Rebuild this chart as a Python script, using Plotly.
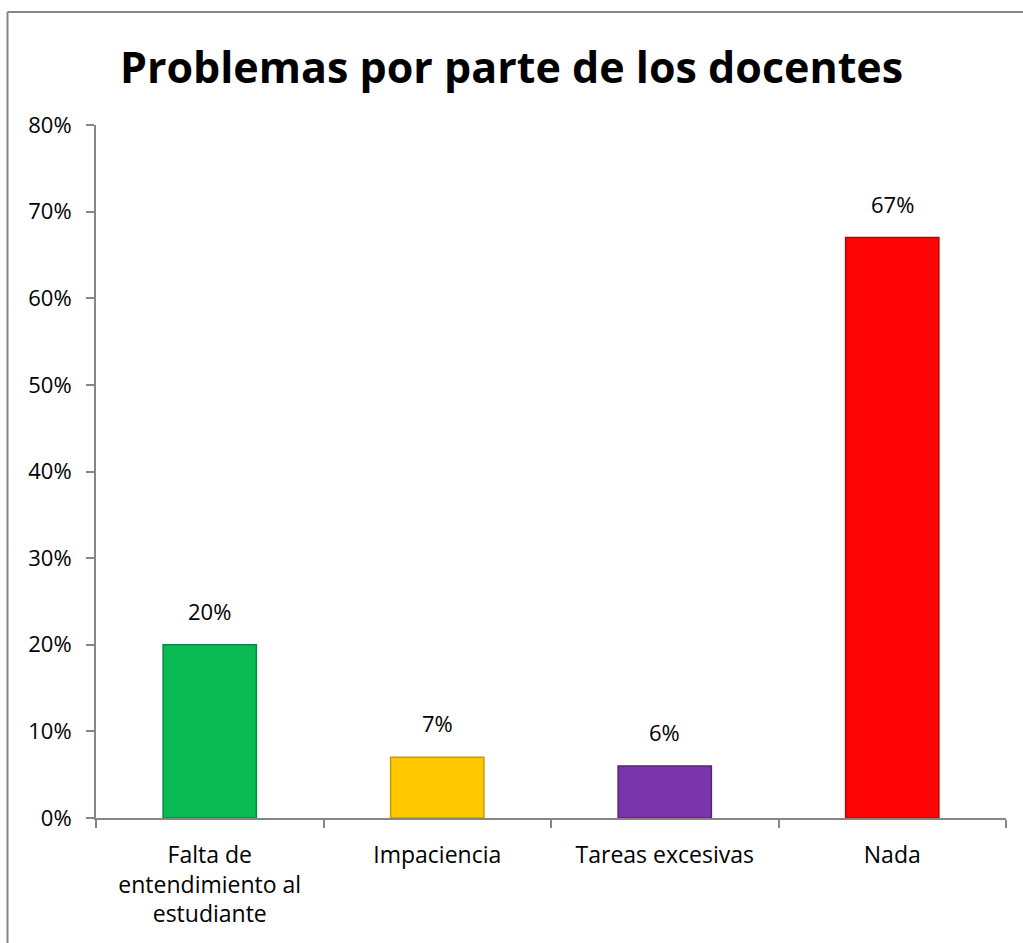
import plotly.graph_objects as go

# Datos
categorias = ["Falta de<br>entendimiento al<br>estudiante", "Impaciencia", "Tareas excesivas", "Nada"]
valores = [0.20, 0.07, 0.06, 0.67]
colores = ["#0abb55", "#ffc800", "#7a35aa", "#ff0505"]
bordes = ["#078a3e", "#c79a00", "#55237a", "#c00000"]
etiquetas = ["20%", "7%", "6%", "67%"]
y_ticks = [0, 0.1, 0.2, 0.3, 0.4, 0.5, 0.6, 0.7, 0.8]
y_labels = ["0%", "10%", "20%", "30%", "40%", "50%", "60%", "70%", "80%"]

W, H = 1023, 943
ML, MR, MT, MB = 96, 17, 125, 125

fig = go.Figure()
fig.add_trace(go.Bar(
    x=categorias, y=valores,
    marker=dict(color=colores, line=dict(color=bordes, width=1.5)),
    width=0.41, hoverinfo="x+y",
))

# etiquetas de datos sobre cada barra
for c, v, t in zip(categorias, valores, etiquetas):
    fig.add_annotation(x=c, y=v, text=t, showarrow=False, yanchor="middle",
                       yshift=34, font=dict(size=22, color="#000000"))

# borde exterior del gráfico (en coordenadas de papel)
pw, ph = W - ML - MR, H - MT - MB
def px(x): return (x - ML) / pw
def py(y): return (H - MB - y) / ph
fig.add_shape(type="line", xref="paper", yref="paper",
              x0=px(7.5), x1=px(1030), y0=py(12), y1=py(12),
              line=dict(color="#868686", width=2))
fig.add_shape(type="line", xref="paper", yref="paper",
              x0=px(7.5), x1=px(7.5), y0=py(12), y1=py(950),
              line=dict(color="#868686", width=2))

fig.update_layout(
    width=W, height=H,
    margin=dict(l=ML, r=MR, t=MT, b=MB),
    paper_bgcolor="white", plot_bgcolor="white",
    font=dict(family="Open Sans, Noto Sans, sans-serif", size=20, color="#000000"),
    title=dict(text="<b>Problemas por parte de los docentes</b>",
               x=0.5, xanchor="center", y=1 - 68 / H, yanchor="middle",
               font=dict(size=43, color="#000000")),
    showlegend=False,
)
fig.update_yaxes(range=[0, 0.8], tickvals=y_ticks, ticktext=y_labels,
                 showgrid=False, showline=True, linecolor="#868686", linewidth=2,
                 ticks="outside", ticklen=8, tickcolor="#868686", tickwidth=2,
                 ticklabelstandoff=10,
                 tickfont=dict(size=22), zeroline=False)
fig.update_xaxes(showgrid=False, showline=True, linecolor="#868686", linewidth=2,
                 ticks="outside", ticklen=8, tickcolor="#868686", tickwidth=2,
                 tickson="boundaries", ticklabelstandoff=15,
                 tickfont=dict(size=23))

fig.write_html("out.html", config={"displayModeBar": False},
               post_script="document.body.style.margin='0';")
